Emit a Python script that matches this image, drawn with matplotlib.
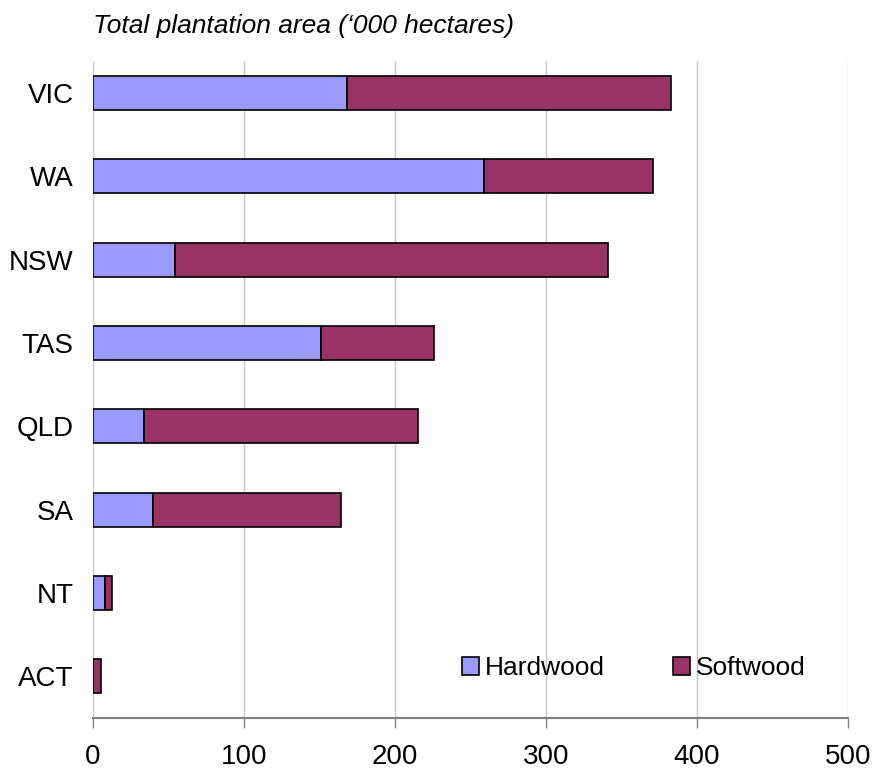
import matplotlib.pyplot as plt
from matplotlib.patches import Patch

plt.rcParams['font.family'] = ['Liberation Sans', 'DejaVu Sans']

states = ['VIC', 'WA', 'NSW', 'TAS', 'QLD', 'SA', 'NT', 'ACT']
hardwood = [168, 259, 54, 151, 34, 40, 8, 0]
softwood = [215, 112, 287, 75, 181, 124, 4.5, 5.5]

hard_col = '#9999FF'
soft_col = '#993366'

fig = plt.figure(figsize=(8.74, 7.73), dpi=100)
ax = fig.add_axes([0.1064, 0.0712, 0.8638, 0.8499])

pos = list(range(len(states)))
ax.barh(pos, hardwood, height=0.41, color=hard_col, edgecolor='black', linewidth=1.2, zorder=3)
ax.barh(pos, softwood, left=hardwood, height=0.41, color=soft_col, edgecolor='black', linewidth=1.2, zorder=3)

ax.set_xlim(0, 500)
ax.set_ylim(7.5, -0.385)
ax.set_xticks([0, 100, 200, 300, 400, 500])
ax.set_yticks(pos)
ax.set_yticklabels(states)
ax.tick_params(axis='x', labelsize=20, length=7, width=1, color='#808080', pad=12)
ax.tick_params(axis='y', labelsize=20, length=0, pad=14)

ax.grid(axis='x', color='#c8c8c8', linewidth=1, zorder=0)
for s in ['top', 'right', 'left']:
    ax.spines[s].set_visible(False)
ax.spines['bottom'].set_color('#808080')
ax.spines['bottom'].set_linewidth(1.5)

fig.text(0.1064, 0.966, "Total plantation area (\u2018000 hectares)", fontsize=19,
         style='italic', ha='left', va='center')

handles = [Patch(facecolor=hard_col, edgecolor='black', linewidth=1.2),
           Patch(facecolor=soft_col, edgecolor='black', linewidth=1.2)]
ax.legend(handles, ['Hardwood', 'Softwood'], loc='center left',
          bbox_to_anchor=(0.475, 0.076), ncol=2, frameon=False, fontsize=19,
          handlelength=0.65, handleheight=0.65, handletextpad=0.2,
          columnspacing=2.6, borderaxespad=0)

fig.savefig('out.png', dpi=100)
